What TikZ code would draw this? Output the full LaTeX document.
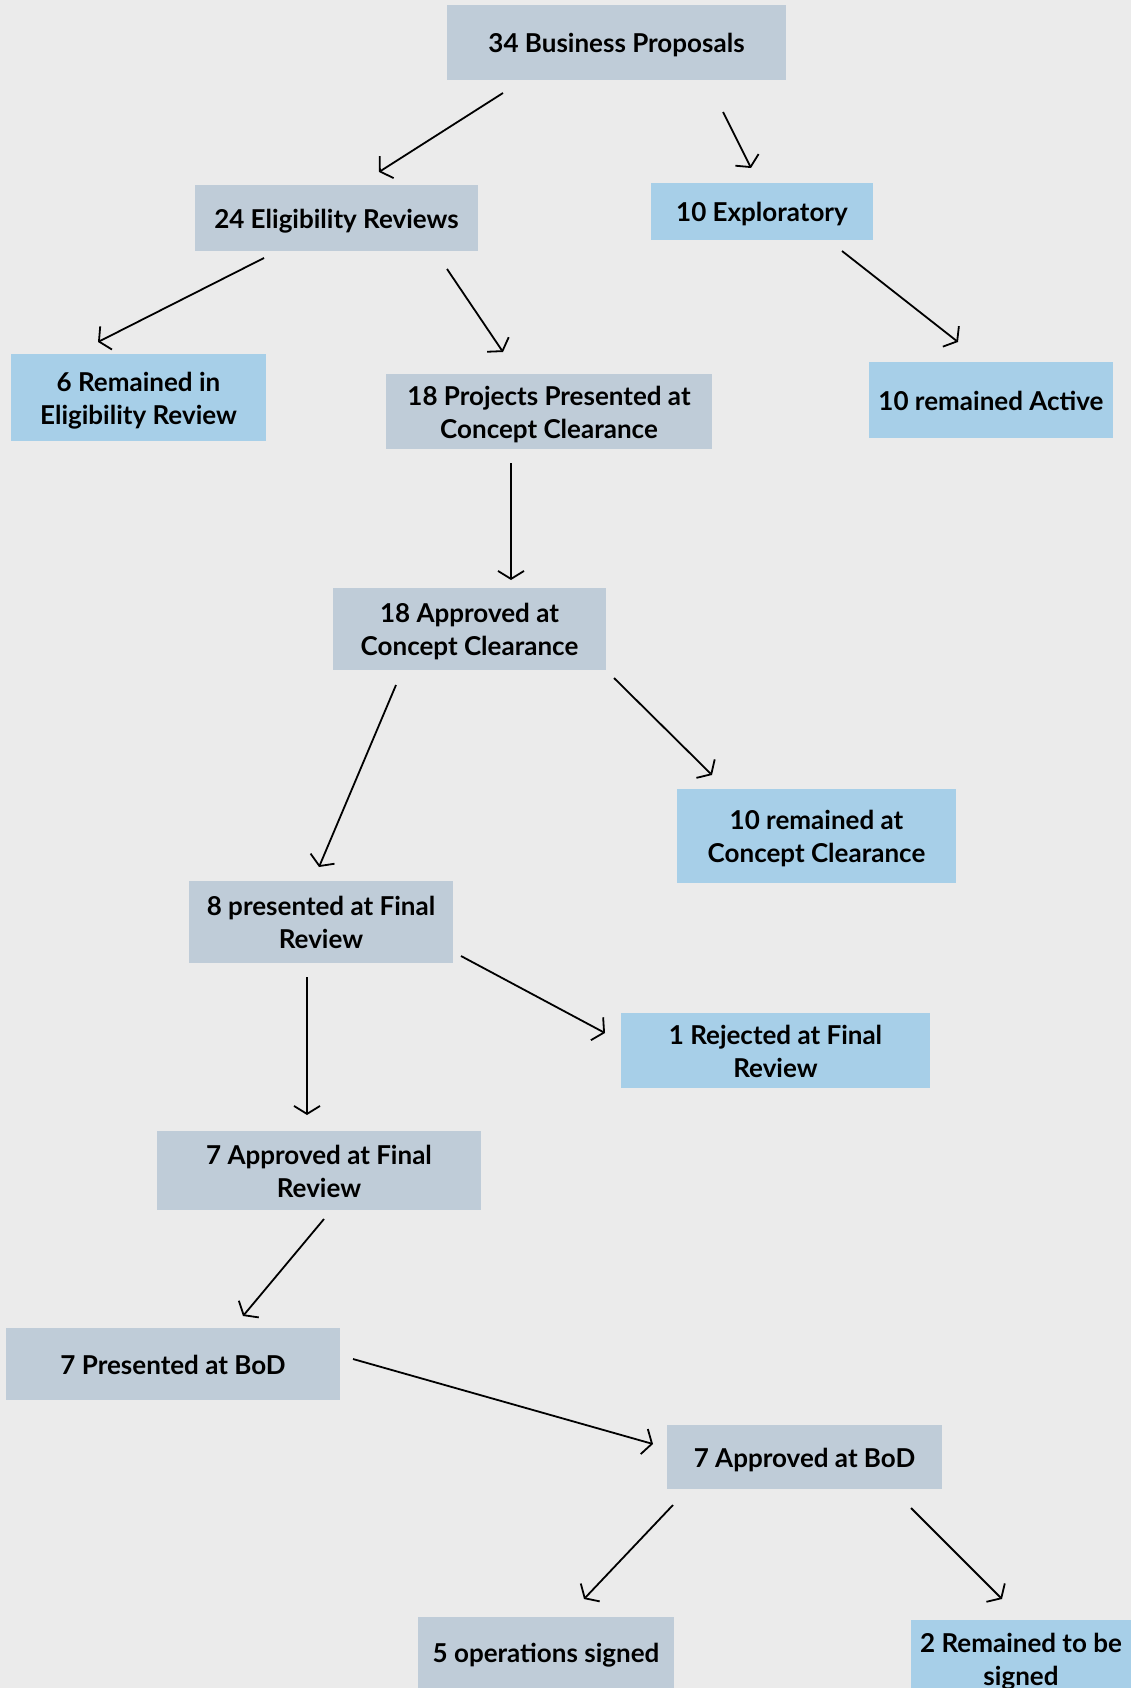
\documentclass[tikz,border=0pt]{standalone}
\usepackage{fontspec}
\setmainfont{Lato}
\usetikzlibrary{arrows.meta}
\definecolor{bg}{HTML}{EBEBEB}
\definecolor{grayboxc}{HTML}{BFCCD8}
\definecolor{blueboxc}{HTML}{A7CFE8}
\newcommand{\boxlbl}[1]{\raisebox{-3.5pt}[\height][\depth]{\begin{tabular}{@{}c@{}}#1\end{tabular}}}
\tikzset{
  box/.style={inner sep=0pt, font=\fontsize{26}{33}\selectfont\bfseries, text=black},
  graybox/.style={box, fill=grayboxc},
  bluebox/.style={box, fill=blueboxc},
  arr/.style={draw=black, line width=1.8pt, -{Straight Barb[length=8pt,width=26pt,line width=1.8pt]}},
}
\begin{document}
\begin{tikzpicture}[x=1pt,y=-1pt]
\fill[bg] (0,0) rectangle (1131,1688);
\useasboundingbox (0,0) rectangle (1131,1688);
\clip (0,0) rectangle (1131,1688);
\node[graybox, minimum width=339pt, minimum height=75pt] (n1) at (616.5,42.5) {\boxlbl{34 Business Proposals}};
\node[graybox, minimum width=283pt, minimum height=66pt] (n2) at (336.5,218) {\boxlbl{24 Eligibility Reviews}};
\node[bluebox, minimum width=222pt, minimum height=57pt] (n3) at (762,211.5) {\boxlbl{10 Exploratory}};
\node[bluebox, minimum width=255pt, minimum height=87pt] (n4) at (138.5,397.5) {\boxlbl{6 Remained in\\Eligibility Review}};
\node[graybox, minimum width=326pt, minimum height=75pt] (n5) at (549,411.5) {\boxlbl{18 Projects Presented at\\Concept Clearance}};
\node[bluebox, minimum width=244pt, minimum height=76pt] (n6) at (991,400) {\boxlbl{10 remained Active}};
\node[graybox, minimum width=273pt, minimum height=82pt] (n7) at (469.5,629) {\boxlbl{18 Approved at\\Concept Clearance}};
\node[bluebox, minimum width=279pt, minimum height=94pt] (n8) at (816.5,836) {\boxlbl{10 remained at\\Concept Clearance}};
\node[graybox, minimum width=264pt, minimum height=82pt] (n9) at (321,922) {\boxlbl{8 presented at Final\\Review}};
\node[bluebox, minimum width=309pt, minimum height=75pt] (n10) at (775.5,1050.5) {\boxlbl{1 Rejected at Final\\Review}};
\node[graybox, minimum width=324pt, minimum height=79pt] (n11) at (319,1170.5) {\boxlbl{7 Approved at Final\\Review}};
\node[graybox, minimum width=334pt, minimum height=72pt] (n12) at (173,1364) {\boxlbl{7 Presented at BoD}};
\node[graybox, minimum width=275pt, minimum height=64pt] (n13) at (804.5,1457) {\boxlbl{7 Approved at BoD}};
\node[graybox, minimum width=256pt, minimum height=71pt] (n14) at (546,1652.5) {\boxlbl{5 operations signed}};
\node[bluebox, minimum width=220pt, minimum height=78pt] (n15) at (1021,1659) {\boxlbl{2 Remained to be\\signed}};
% connectors
\draw[arr] ([shift={(-113.5,50.5)}]n1.center) -- ([shift={(42.5,-46)}]n2.center);
\draw[arr] ([shift={(106.5,69.5)}]n1.center) -- ([shift={(-11,-43.5)}]n3.center);
\draw[arr] ([shift={(-72.5,40)}]n2.center) -- ([shift={(-40.5,-55.5)}]n4.center);
\draw[arr] ([shift={(110.5,51)}]n2.center) -- ([shift={(-46,-59.5)}]n5.center);
\draw[arr] ([shift={(80,39.5)}]n3.center) -- ([shift={(-33,-58)}]n6.center);
\draw[arr] ([shift={(-38,51.5)}]n5.center) -- ([shift={(41.5,-49)}]n7.center);
\draw[arr] ([shift={(-73.5,56)}]n7.center) -- ([shift={(-2,-55)}]n9.center);
\draw[arr] ([shift={(144.5,49)}]n7.center) -- ([shift={(-104.5,-61)}]n8.center);
\draw[arr] ([shift={(-14,55)}]n9.center) -- ([shift={(-12,-55.5)}]n11.center);
\draw[arr] ([shift={(140,34)}]n9.center) -- ([shift={(-170.5,-17.5)}]n10.center);
\draw[arr] ([shift={(5,48.5)}]n11.center) -- ([shift={(70,-48)}]n12.center);
\draw[arr] ([shift={(180,-5)}]n12.center) -- ([shift={(-151.5,-13)}]n13.center);
\draw[arr] ([shift={(-131.5,48)}]n13.center) -- ([shift={(38,-53.5)}]n14.center);
\draw[arr] ([shift={(106.5,51)}]n13.center) -- ([shift={(-19,-60)}]n15.center);
\end{tikzpicture}
\end{document}
